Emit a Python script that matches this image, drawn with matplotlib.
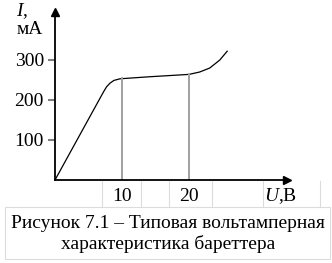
import matplotlib
matplotlib.use("Agg")
import matplotlib.pyplot as plt
from matplotlib.lines import Line2D
from matplotlib.patches import Rectangle

plt.rcParams['font.family'] = ['Liberation Serif', 'DejaVu Serif']
plt.rcParams['font.size'] = 14
plt.rcParams['mathtext.fontset'] = 'custom'
plt.rcParams['mathtext.rm'] = 'Liberation Serif'
plt.rcParams['mathtext.it'] = 'Liberation Serif:italic'

# current-voltage curve of the barretter (U in V, I in mA)
u_vals = [0, 6.9, 7.3, 7.7, 8.2, 8.8, 9.7, 14.0, 20.0, 21.6, 23.1, 24.6, 25.7]
i_vals = [0, 210, 222, 233, 242, 249, 253, 258, 264, 270, 280, 300, 322]
x_ticks = [10, 20]
x_marks = [254, 264]          # curve value at the vertical guide lines
y_ticks = [100, 200, 300]
caption = "Рисунок 7.1 – Типовая вольтамперная\nхарактеристика бареттера"

W, H = 332, 263
fig = plt.figure(figsize=(W / 100, H / 100), dpi=100)


def fx(px):
    return px / W


def fy(py):
    return 1 - py / H


# axes: origin at pixel (55, 180), x to 287, y up to 12
ax = fig.add_axes([fx(55), fy(180), fx(287) - fx(55), fy(12) - fy(180)])
ax.set_xlim(0, (287 - 55) / 6.7)
ax.set_ylim(0, 168 / 0.4)
ax.patch.set_alpha(0)
for s in ['top', 'right']:
    ax.spines[s].set_visible(False)
for s in ['left', 'bottom']:
    ax.spines[s].set_linewidth(1.3)

ax.plot(u_vals, i_vals, color='black', lw=0.9)
for xv, yv in zip(x_ticks, x_marks):
    ax.plot([xv, xv], [0, yv], color='#a0a0a0', lw=1.4)

ax.set_yticks(y_ticks)
ax.set_yticklabels([str(v) for v in y_ticks])
ax.tick_params(axis='y', length=5, width=1.5, color='#808080', pad=3,
               labelsize=14)
ax.set_xticks(x_ticks)
ax.set_xticklabels([str(v) for v in x_ticks])
ax.tick_params(axis='x', length=0, pad=6, labelsize=14)

# arrow heads
ax.plot(1, 0, '>', color='black', ms=6, transform=ax.transAxes, clip_on=False)
ax.plot(0, 1, '^', color='black', ms=6, transform=ax.transAxes, clip_on=False)

fig.text(fx(281), fy(196), r'$U$,В', ha='center', va='center', fontsize=14)
fig.text(fx(22), fy(11), r'$I$,', ha='center', va='center', fontsize=14)
fig.text(fx(30), fy(30), 'мА', ha='center', va='center', fontsize=14)

# faint table borders from the source document
grid = '#dcdcdc'
for px in [102, 141, 169, 212, 263, 320]:
    fig.add_artist(Line2D([fx(px), fx(px)], [fy(181), fy(207)],
                          color=grid, lw=0.8))
fig.add_artist(Rectangle((fx(5), fy(259)), fx(330) - fx(5), fy(207) - fy(259),
                         fill=False, edgecolor=grid, lw=0.8))

fig.text(fx(168), fy(234), caption, ha='center', va='center', fontsize=14,
         linespacing=1.15)

fig.savefig('out.png', dpi=100)
